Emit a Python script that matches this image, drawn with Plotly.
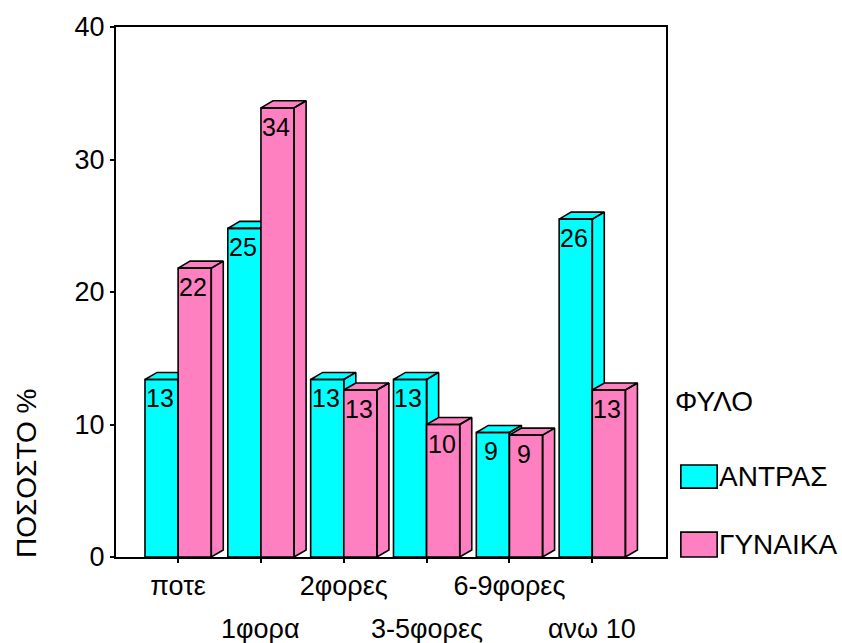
import plotly.graph_objects as go

categories = ["ποτε", "1φορα", "2φορες", "3-5φορες", "6-9φορες", "ανω 10"]
men = [13.4, 24.8, 13.4, 13.4, 9.4, 25.5]
women = [21.8, 33.9, 12.6, 10.0, 9.2, 12.6]
men_labels = ["13", "25", "13", "13", "9", "26"]
women_labels = ["22", "34", "13", "10", "9", "13"]
series_names = ["ΑΝΤΡΑΣ", "ΓΥΝΑΙΚΑ"]
colors = ["#00FFFF", "#FF80C0"]

BAR_W = 0.4
DX = 0.145
DY = 0.53
FONT = "Liberation Sans, Arial, sans-serif"

fig = go.Figure()


def bar_polys(x0, x1, v):
    xs, ys = [], []
    # side face
    xs += [x1, x1 + DX, x1 + DX, x1, x1, None]
    ys += [0, DY, v + DY, v, 0, None]
    # top face
    xs += [x0, x0 + DX, x1 + DX, x1, x0, None]
    ys += [v, v + DY, v + DY, v, v, None]
    # front face
    xs += [x0, x1, x1, x0, x0]
    ys += [0, 0, v, v, 0]
    return xs, ys


for i, cat in enumerate(categories):
    for s, (vals, offs) in enumerate([(men, -BAR_W), (women, 0.0)]):
        x0 = i + offs
        x1 = x0 + BAR_W
        xs, ys = bar_polys(x0, x1, vals[i])
        fig.add_trace(go.Scatter(
            x=xs, y=ys, mode="lines", fill="toself",
            fillcolor=colors[s], line=dict(color="black", width=1.6),
            showlegend=False, hoverinfo="skip", name=series_names[s]))

annotations = []
# value labels inside the bars
for s, (vals, labels, offs) in enumerate([(men, men_labels, -BAR_W / 2), (women, women_labels, BAR_W / 2)]):
    for i in range(len(categories)):
        annotations.append(dict(x=i + offs - 0.02, y=vals[i], xref="x", yref="y", text=labels[i],
                                showarrow=False, xanchor="center", yanchor="top", yshift=-3,
                                font=dict(family=FONT, size=25, color="black")))

# second row of category labels
for i, cat in enumerate(categories):
    if i % 2 == 1:
        annotations.append(dict(x=i, y=0, xref="x", yref="paper", text=cat, showarrow=False,
                                yshift=-72, yanchor="middle", xanchor="center",
                                font=dict(family=FONT, size=27, color="black")))

# y-axis title
annotations.append(dict(x=(26 - 116) / 550, y=(557 - 474) / 530, xref="paper", yref="paper",
                        text="ΠΟΣΟΣΤΟ %", textangle=-90, showarrow=False,
                        xanchor="center", yanchor="middle",
                        font=dict(family=FONT, size=28, color="black")))

# custom legend
annotations.append(dict(x=1.0127, y=0.2925, xref="paper", yref="paper", text="ΦΥΛΟ",
                        showarrow=False, xanchor="left", yanchor="middle",
                        font=dict(family=FONT, size=28, color="black")))
shapes = []
legend_y = [(0.130, 0.1736), (0.0, 0.047)]
for s in range(2):
    y0, y1 = legend_y[s]
    shapes.append(dict(type="rect", xref="paper", yref="paper", x0=1.027, x1=1.093,
                       y0=y0, y1=y1, fillcolor=colors[s], line=dict(color="black", width=1.6)))
    annotations.append(dict(x=1.093, y=(y0 + y1) / 2, xref="paper", yref="paper",
                            text=series_names[s], showarrow=False, xanchor="left",
                            yanchor="middle", font=dict(family=FONT, size=28, color="black")))

fig.update_layout(
    width=842, height=643,
    margin=dict(l=116, r=176, t=27, b=86),
    plot_bgcolor="white", paper_bgcolor="white",
    annotations=annotations, shapes=shapes,
    showlegend=False,
)
fig.update_xaxes(
    range=[-0.75, 5.89], tickmode="array", tickvals=list(range(len(categories))),
    ticktext=[c if i % 2 == 0 else "" for i, c in enumerate(categories)],
    showgrid=False, zeroline=False, showline=True, linecolor="black", linewidth=2,
    mirror=True, ticks="outside", ticklen=4, tickwidth=2, tickcolor="black",
    tickfont=dict(family=FONT, size=27, color="black"),
)
fig.update_yaxes(
    range=[0, 40], tickvals=[0, 10, 20, 30, 40],
    showgrid=False, zeroline=False, showline=True, linecolor="black", linewidth=2,
    mirror=True, ticks="outside", ticklen=4, tickwidth=2, tickcolor="black",
    tickfont=dict(family=FONT, size=27, color="black"),
)

fig.write_html("out.html")
